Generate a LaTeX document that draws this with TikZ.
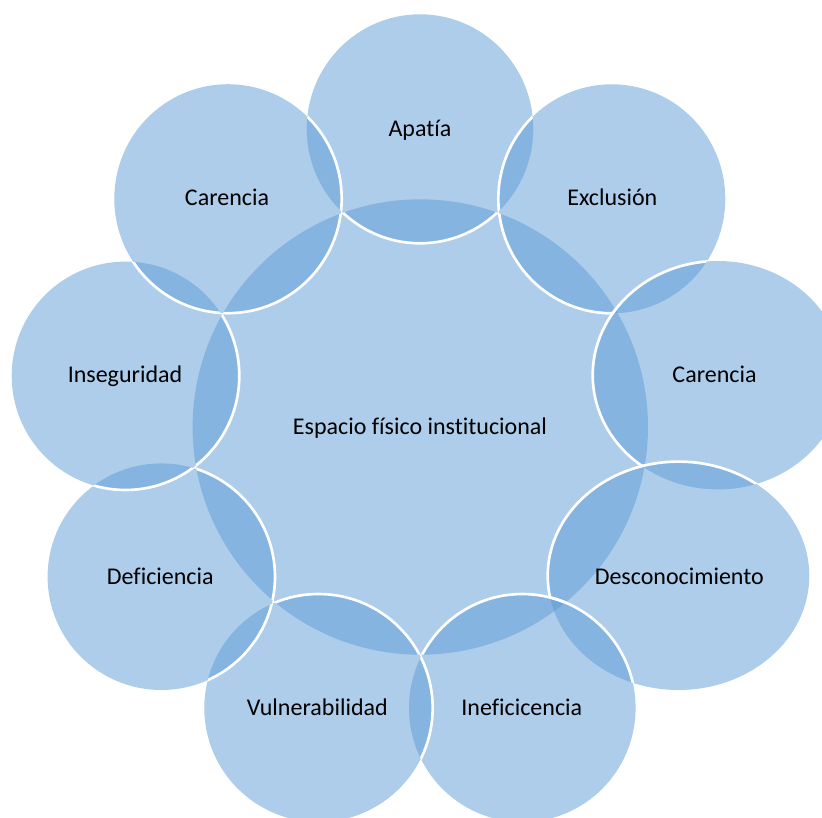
\documentclass[tikz,border=0pt]{standalone}
\usepackage{fontspec}
\setmainfont{Carlito}[Ligatures=NoCommon]
\definecolor{bubbleblue}{HTML}{5B9BD5}
\tikzset{
	bubble/.style={fill=bubbleblue, fill opacity=0.5},
	rim/.style={draw=white, line width=2pt},
	lbl/.style={anchor=base, font=\fontsize{18}{22}\selectfont, text=black}
}
\def\hub{(420.3,427) circle [radius=227.7]}
\def\apatia{(420,128.8) ellipse [x radius=113.3, y radius=114.5]}
\def\exclusion{(611.8,198.8) ellipse [x radius=113.5, y radius=114.5]}
\def\carenciaR{(718,375.2) ellipse [x radius=125.3, y radius=114.2]}
\def\desconoc{(678.5,575.8) ellipse [x radius=130.8, y radius=114.2]}
\def\inefic{(522.3,708) ellipse [x radius=113.3, y radius=114]}
\def\vulner{(318.5,708) ellipse [x radius=114.2, y radius=114]}
\def\deficien{(161.3,576.7) ellipse [x radius=113.7, y radius=113.3]}
\def\insegur{(125.5,375.8) ellipse [x radius=113.8, y radius=114.2]}
\def\carenciaL{(228,198.7) ellipse [x radius=113.7, y radius=114.5]}
% rim of #1, seen only over #2 and not under #3
\def\rimpart#1#2#3{\begin{scope}[even odd rule]\clip (-50,-50) rectangle (900,900) #3;\clip #2;\draw[rim] #1;\end{scope}}

\begin{document}
\begin{tikzpicture}[x=0.75pt, y=-0.75pt]
			\useasboundingbox (0,0) rectangle (822,818);
			
			%%%%% BUBBLES %%%%%
			\path[bubble] \hub;
			\path[bubble] \apatia;
			\path[bubble] \exclusion;
			\path[bubble] \carenciaR;
			\path[bubble] \desconoc;
			\path[bubble] \inefic;
			\path[bubble] \vulner;
			\path[bubble] \deficien;
			\path[bubble] \insegur;
			\path[bubble] \carenciaL;
			
			%%%%% RIMS %%%%%
			\begin{scope}[even odd rule]
				\clip (-50,-50) rectangle (900,900) \exclusion;
				\clip (-50,-50) rectangle (900,900) \carenciaL;
				\clip \hub;
				\draw[rim] \apatia;
			\end{scope}
			
			\rimpart{\exclusion}{\hub}{\carenciaR}
			\rimpart{\exclusion}{\apatia}{\carenciaR}
			\rimpart{\carenciaR}{\hub}{\desconoc}
			\rimpart{\carenciaR}{\exclusion}{\desconoc}
			\rimpart{\desconoc}{\hub}{\inefic}
			\rimpart{\desconoc}{\carenciaR}{\inefic}
			\rimpart{\inefic}{\hub}{\vulner}
			\rimpart{\inefic}{\desconoc}{\vulner}
			\rimpart{\vulner}{\hub}{\deficien}
			\rimpart{\vulner}{\inefic}{\deficien}
			\rimpart{\deficien}{\hub}{\insegur}
			\rimpart{\deficien}{\vulner}{\insegur}
			\rimpart{\insegur}{\hub}{\carenciaL}
			\rimpart{\insegur}{\deficien}{\carenciaL}
			\rimpart{\carenciaL}{\hub}{}
			\rimpart{\carenciaL}{\insegur}{}
			\rimpart{\carenciaL}{\apatia}{}
			
			%%%%% LABELS %%%%%
			\node[lbl] (hubtext) at (420,434.5) {Espacio físico institucional};
			\node[lbl] (apatiatext) at (420,136) {Apatía};
			\node[lbl] (exclusiontext) at (612.3,205) {Exclusión};
			\node[lbl] (carenciaRtext) at (714.5,382.5) {Carencia};
			\node[lbl] (desconoctext) at (679.3,584) {Desconocimiento};
			\node[lbl] (inefictext) at (521.8,715) {Ineficicencia};
			\node[lbl] (vulnertext) at (317.3,715) {Vulnerabilidad};
			\node[lbl] (deficientext) at (160.3,584) {Deficiencia};
			\node[lbl] (insegurtext) at (125,382.5) {Inseguridad};
			\node[lbl] (carenciaLtext) at (227,205) {Carencia};
			
\end{tikzpicture}
\end{document}
